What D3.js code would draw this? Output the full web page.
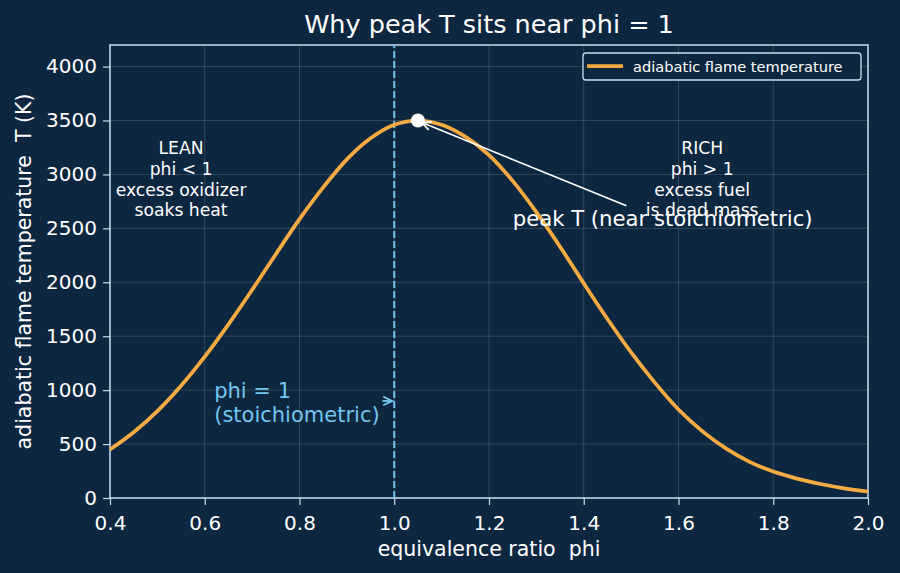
<!DOCTYPE html>
<html><head><meta charset="utf-8">
<script src="https://cdn.jsdelivr.net/npm/d3@7"></script>
<style>html,body{margin:0;padding:0;background:#0d2740;}svg{display:block;font-family:"DejaVu Sans",sans-serif;}text{white-space:pre;}</style>
</head><body>
<svg id="chart" width="900" height="573"></svg>
<script>
const phi = [0.40,0.45,0.50,0.55,0.60,0.65,0.70,0.75,0.80,0.85,0.90,0.95,1.00,1.05,1.10,1.15,1.20,1.25,1.30,1.35,1.40,1.45,1.50,1.55,1.60,1.65,1.70,1.75,1.80,1.85,1.90,1.95,2.00];
const flameT = [450,610,805,1040,1310,1610,1930,2260,2585,2880,3140,3335,3460,3500,3460,3350,3180,2940,2650,2330,1990,1660,1350,1070,820,620,460,335,245,180,130,90,60];
const xTicks = [0.4,0.6,0.8,1.0,1.2,1.4,1.6,1.8,2.0];
const yTicks = [0,500,1000,1500,2000,2500,3000,3500,4000];
const peak = {phi:1.05, T:3500};
const stoichPhi = 1.0;
const titleText = "Why peak T sits near phi = 1";
const xLabel = "equivalence ratio  phi";
const yLabel = "adiabatic flame temperature  T (K)";
const legendLabel = "adiabatic flame temperature";
const leanLines = ["LEAN","phi < 1","excess oxidizer","soaks heat"];
const richLines = ["RICH","phi > 1","excess fuel","is dead mass"];
const peakNote = "peak T (near stoichiometric)";
const stoichLines = ["phi = 1","(stoichiometric)"];

const W=900,H=573, m={l:110,r:32,t:45,b:75};
const svg=d3.select("#chart");
const bg="#0d2740", fg="#ffffff", spine="#c9ddef", orange="#f6aa42", blue="#72c6f0";
svg.append("rect").attr("width",W).attr("height",H).attr("fill",bg);
const x=d3.scaleLinear().domain([0.4,2.0]).range([m.l,W-m.r]);
const y=d3.scaleLinear().domain([0,4200]).range([H-m.b,m.t]);

// grid
const g=svg.append("g");
g.selectAll(".gx").data(xTicks).join("line").attr("x1",d=>x(d)).attr("x2",d=>x(d)).attr("y1",y(0)).attr("y2",y(4200))
 .attr("stroke","#ffffff").attr("stroke-opacity",0.15).attr("stroke-width",1);
g.selectAll(".gy").data(yTicks).join("line").attr("y1",d=>y(d)).attr("y2",d=>y(d)).attr("x1",x(0.4)).attr("x2",x(2.0))
 .attr("stroke","#ffffff").attr("stroke-opacity",0.15).attr("stroke-width",1);

// axes
const xa=svg.append("g").attr("transform",`translate(0,${y(0)})`).call(d3.axisBottom(x).tickValues(xTicks).tickFormat(d3.format(".1f")).tickSize(7).tickPadding(6));
const ya=svg.append("g").attr("transform",`translate(${x(0.4)},0)`).call(d3.axisLeft(y).tickValues(yTicks).tickFormat(d3.format("d")).tickSize(7).tickPadding(6));
[xa,ya].forEach(a=>{a.select(".domain").remove();a.selectAll("line").attr("stroke",spine).attr("stroke-width",1.2);
 a.selectAll("text").attr("fill",fg).attr("font-size","20px").attr("font-family","DejaVu Sans");});
xa.selectAll("text").attr("dy","0.95em");
// frame
svg.append("rect").attr("x",x(0.4)).attr("y",y(4200)).attr("width",x(2.0)-x(0.4)).attr("height",y(0)-y(4200))
 .attr("fill","none").attr("stroke",spine).attr("stroke-width",1.5);

// stoich line
svg.append("line").attr("x1",x(stoichPhi)).attr("x2",x(stoichPhi)).attr("y1",y(0)).attr("y2",y(4200))
 .attr("stroke",blue).attr("stroke-width",2).attr("stroke-dasharray","7,3");

// curve
const line=d3.line().x((d,i)=>x(phi[i])).y(d=>y(d)).curve(d3.curveCatmullRom.alpha(0.5));
svg.append("path").datum(flameT).attr("d",line).attr("fill","none").attr("stroke",orange).attr("stroke-width",3.75);

// peak dot
svg.append("circle").attr("cx",x(peak.phi)).attr("cy",y(peak.T)).attr("r",7).attr("fill","#ffffff");

function head(tx,ty,fx,fy,color,L){
  const ang=Math.atan2(ty-fy,tx-fx), a=0.45;
  svg.append("path").attr("d",`M${tx-L*Math.cos(ang-a)},${ty-L*Math.sin(ang-a)} L${tx},${ty} L${tx-L*Math.cos(ang+a)},${ty-L*Math.sin(ang+a)}`)
   .attr("fill","none").attr("stroke",color).attr("stroke-width",1.8);
}
// peak annotation arrow
const px=x(peak.phi)+4, py=y(peak.T)+2;
svg.append("line").attr("x1",x(1.49)).attr("y1",y(2710)).attr("x2",px).attr("y2",py).attr("stroke","#fff").attr("stroke-width",1.6);
head(px,py,x(1.49),y(2710),"#fff",10);

// LEAN / RICH text
function block(lines,cx,baseY,size,color){
  const t=svg.append("text").attr("fill",color).attr("font-size",size+"px").attr("text-anchor","middle");
  lines.forEach((s,i)=>t.append("tspan").attr("x",cx).attr("y",baseY+i*size*1.2).text(s));
}
block(leanLines,x(0.55),y(3185),17.2,fg);
block(richLines,x(1.65),y(3185),17.2,fg);

svg.append("text").attr("x",x(1.25)).attr("y",y(2520)).attr("fill",fg).attr("font-size","21.2px").text(peakNote);

// stoich annotation
const st=svg.append("text").attr("fill",blue).attr("font-size","21px");
stoichLines.forEach((s,i)=>st.append("tspan").attr("x",x(0.62)).attr("y",y(930)+i*24).text(s));
svg.append("line").attr("x1",x(0.975)).attr("y1",y(900)).attr("x2",x(1.0)-2).attr("y2",y(900)).attr("stroke",blue).attr("stroke-width",1.8);
head(x(1.0)-2,y(900),x(0.97),y(900),blue,10);

// title and labels
svg.append("text").attr("x",(x(0.4)+x(2.0))/2).attr("y",33).attr("text-anchor","middle").attr("fill",fg).attr("font-size","25.5px").text(titleText);
svg.append("text").attr("x",(x(0.4)+x(2.0))/2).attr("y",556).attr("text-anchor","middle").attr("fill",fg).attr("font-size","20.5px").text(xLabel);
svg.append("text").attr("transform",`translate(31,${(y(0)+y(4200))/2}) rotate(-90)`).attr("text-anchor","middle").attr("fill",fg).attr("font-size","20.5px").text(yLabel);

// legend
const lg=svg.append("g");
lg.append("rect").attr("x",583).attr("y",53).attr("width",278).attr("height",27).attr("rx",3).attr("fill",bg).attr("stroke",spine).attr("stroke-width",1.3);
lg.append("line").attr("x1",587).attr("x2",623).attr("y1",66).attr("y2",66).attr("stroke",orange).attr("stroke-width",3.75);
lg.append("text").attr("x",633).attr("y",71.5).attr("fill",fg).attr("font-size","14.6px").text(legendLabel);
</script>
</body></html>
